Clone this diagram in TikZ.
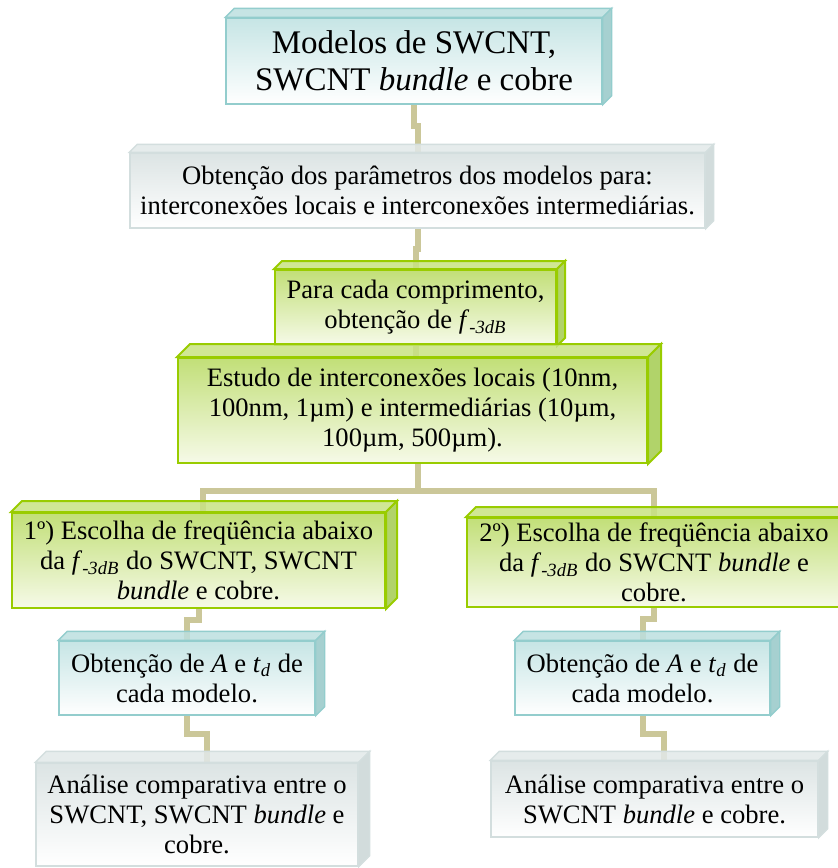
\documentclass[tikz,border=0pt]{standalone}
\usepackage{fontspec}
\setmainfont{Liberation Serif}
\usetikzlibrary{positioning, backgrounds}

\definecolor{tealedge}{HTML}{93CDCD}
\definecolor{tealfill}{HTML}{C6E5E5}
\definecolor{tealtop}{HTML}{BCDFDF}
\definecolor{tealside}{HTML}{A6D0D0}
\definecolor{greenedge}{HTML}{99CC00}
\definecolor{greenfill}{HTML}{C2DF78}
\definecolor{greenlow}{HTML}{F6FAE8}
\definecolor{greentop}{HTML}{C8E383}
\definecolor{greenside}{HTML}{B1D36A}
\definecolor{grayedge}{HTML}{D3DEDE}
\definecolor{grayfill}{HTML}{DCE4E4}
\definecolor{graytop}{HTML}{E2E9E9}
\definecolor{grayside}{HTML}{D2DCDC}
\definecolor{linkcol}{HTML}{CBC799}

\newcommand{\fdb}{\textit{f}\textsubscript{\textit{-3dB}}}
\newcommand{\tdel}{\textit{t}\textsubscript{\textit{d}}}
% top and right faces of a box
\newcommand{\faces}[3]{%
  \filldraw[#3topface] (#1.north west) -- ++(#2,-#2) -- ([shift={(#2,-#2)}]#1.north east) -- (#1.north east) -- cycle;
  \filldraw[#3sideface] (#1.north east) -- ++(#2,-#2) -- ([shift={(#2,-#2)}]#1.south east) -- (#1.south east) -- cycle;}

\tikzset{
  box/.style={rectangle, inner sep=0pt, align=center, font=\fontsize{13.3}{15}\selectfont},
  tealbox/.style={box, draw=tealedge, line width=.7pt, top color=tealfill, bottom color=white},
  greenbox/.style={box, draw=greenedge, line width=1pt, top color=greenfill, bottom color=greenlow},
  graybox/.style={box, draw=grayedge, line width=.7pt, top color=grayfill, bottom color=white},
  tealtopface/.style={fill=tealtop, draw=tealedge, line width=.7pt, fill opacity=.85},
  tealsideface/.style={fill=tealside, draw=tealedge, line width=.7pt},
  greentopface/.style={fill=greentop, draw=greenedge, line width=1pt, fill opacity=.85},
  greensideface/.style={fill=greenside, draw=greenedge, line width=1pt},
  graytopface/.style={fill=graytop, draw=grayedge, line width=.7pt, fill opacity=.85},
  graysideface/.style={fill=grayside, draw=grayedge, line width=.7pt},
  link/.style={draw=linkcol, line width=3pt}
}

\begin{document}
\begin{tikzpicture}[x=0.5pt, y=-0.5pt]
  \useasboundingbox (0,0) rectangle (838,868);
  \clip (0,0) rectangle (838,868);

  \node[tealbox, minimum width=188pt, minimum height=43pt, font=\fontsize{16.5}{18.5}\selectfont] (modelos) at (414,61)
    {Modelos de SWCNT,\\ SWCNT \textit{bundle} e cobre};
  \node[graybox, minimum width=287.5pt, minimum height=37.5pt] (param) at (417.5,190.5)
    {Obtenção dos parâmetros dos modelos para:\\ interconexões locais e interconexões intermediárias.};
  \node[greenbox, minimum width=140.5pt, minimum height=37.5pt] (fcorte) at (415.5,307.5)
    {Para cada comprimento,\\ obtenção de \fdb};
  \node[greenbox, minimum width=234.5pt, minimum height=52.5pt] (estudo) at (412.5,410.5)
    {Estudo de interconexões locais (10nm,\\ 100nm, 1µm) e intermediárias (10µm,\\ 100µm, 500µm).};
  \node[greenbox, minimum width=186.5pt, minimum height=47.5pt] (escolhaA) at (198.5,560.5)
    {1º) Escolha de freqüência abaixo\\ da \fdb{} do SWCNT, SWCNT\\ \textit{bundle} e cobre.};
  \node[greenbox, minimum width=187pt, minimum height=44.5pt] (escolhaB) at (654,562.5)
    {2º) Escolha de freqüência abaixo\\ da \fdb{} do SWCNT \textit{bundle} e\\ cobre.};
  \node[tealbox, minimum width=128pt, minimum height=37pt] (obtA) at (187,678)
    {Obtenção de \textit{A} e \tdel{} de\\ cada modelo.};
  \node[tealbox, minimum width=127.5pt, minimum height=37pt] (obtB) at (642.5,678)
    {Obtenção de \textit{A} e \tdel{} de\\ cada modelo.};
  \node[graybox, minimum width=161pt, minimum height=51.5pt] (analiseA) at (197,814.5)
    {Análise comparativa entre o\\ SWCNT, SWCNT \textit{bundle} e\\ cobre.};
  \node[graybox, minimum width=163.5pt, minimum height=38pt] (analiseB) at (654.5,799)
    {Análise comparativa entre o\\ SWCNT \textit{bundle} e cobre.};

  \faces{modelos}{9}{teal}
  \faces{param}{8}{gray}
  \faces{fcorte}{8}{green}
  \faces{estudo}{13}{green}
  \faces{escolhaA}{11}{green}
  \faces{escolhaB}{10}{green}
  \faces{obtA}{9}{teal}
  \faces{obtB}{9}{teal}
  \faces{analiseA}{11}{gray}
  \faces{analiseB}{9}{gray}

  \begin{scope}[on background layer]
    \draw[link] (modelos.south) -- ++(0,21) -| (param.north);
    \draw[link] (param.south) -- ++(0,20) -| (fcorte.north);
    \draw[link] (fcorte.south) -- (fcorte.south |- estudo.north);
    \draw[link] ([xshift=2.75pt]estudo.south) -- ++(0,27) coordinate (split);
    \draw[link] (split) -| ([xshift=2.25pt]escolhaA.north);
    \draw[link] (split) -| (escolhaB.north);
    \draw[link] (escolhaA.south) -- ++(0,11) -| (obtA.north);
    \draw[link] (obtA.south) -- ++(0,18) -| ([xshift=5pt]analiseA.north);
    \draw[link] (escolhaB.south) -- ++(0,11) -| (obtB.north);
    \draw[link] (obtB.south) -- ++(0,18) -| ([xshift=4.5pt]analiseB.north);
  \end{scope}
\end{tikzpicture}
\end{document}
